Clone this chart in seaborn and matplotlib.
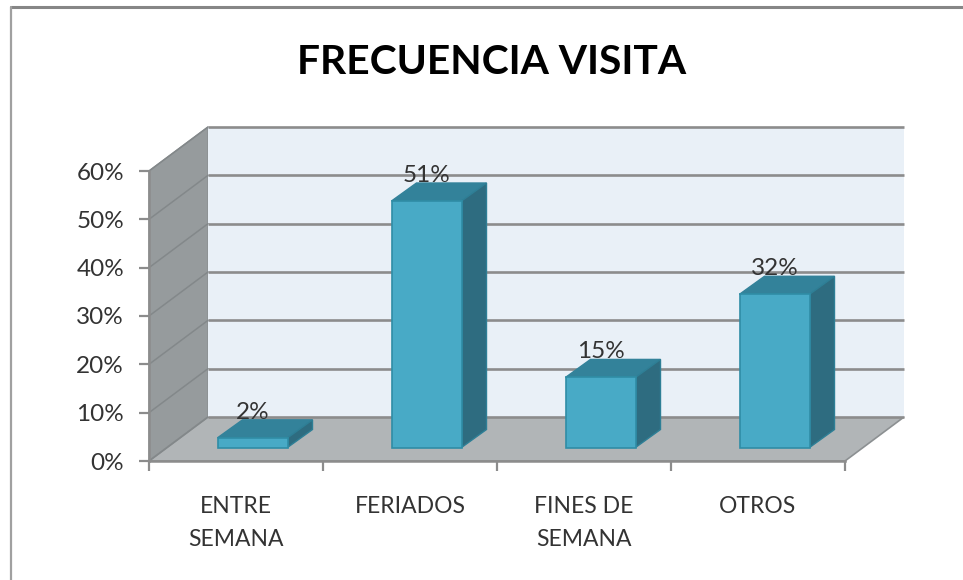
import numpy as np
import pandas as pd
import matplotlib
matplotlib.use("Agg")
import matplotlib.pyplot as plt
from matplotlib.patches import Polygon
from matplotlib.lines import Line2D
import seaborn as sns

categories = ["ENTRE\nSEMANA", "FERIADOS", "FINES DE\nSEMANA", "OTROS"]
values = [2, 51, 14.5, 31.7]
bar_labels = ["2%", "51%", "15%", "32%"]
y_ticks = [0, 10, 20, 30, 40, 50, 60]
title = "FRECUENCIA VISITA"

W, H = 963, 580
px_x = 696 / 4      # pixels per category
px_y = 290 / 60     # pixels per percent

sns.set_theme(style="white")
plt.rcParams["font.family"] = ["Lato", "DejaVu Sans"]

fig = plt.figure(figsize=(W / 100, H / 100), dpi=100, facecolor="white")
ax = fig.add_axes([149 / W, (H - 461) / H, 696 / W, 290 / H])
ax.patch.set_alpha(0)

df = pd.DataFrame({"cat": categories, "val": values})
sns.barplot(data=df, x="cat", y="val", color="#48AAC6", saturation=1, width=70 / px_x,
            edgecolor="#2F8DA6", linewidth=1.2, zorder=5, ax=ax, bottom=13.5 / px_y)

ax.set_xlim(-0.5, 3.5)
ax.set_ylim(0, 60)

# depth of the box and of the bars, turned into data units
wall_dx, wall_dy = 59 / px_x, 44 / px_y
bar_dx, bar_dy = 25 / px_x, 18 / px_y
x0, x1 = -0.5, 3.5

# walls and floor
ax.add_patch(Polygon([(x0, 0), (x0 + wall_dx, wall_dy), (x0 + wall_dx, 60 + wall_dy), (x0, 60)],
                     fc="#969B9D", ec="#8A8F91", lw=1, clip_on=False, zorder=1))
ax.add_patch(Polygon([(x0, 0), (x1, 0), (x1 + wall_dx, wall_dy), (x0 + wall_dx, wall_dy)],
                     fc="#B1B5B7", ec="#8C9092", lw=1.2, clip_on=False, zorder=1))
ax.add_patch(Polygon([(x0 + wall_dx, wall_dy), (x1 + wall_dx, wall_dy),
                      (x1 + wall_dx, 60 + wall_dy), (x0 + wall_dx, 60 + wall_dy)],
                     fc="#E9F0F7", ec="none", clip_on=False, zorder=1))

# gridlines along the back wall and the side wall
for t in y_ticks:
    ax.plot([x0 + wall_dx, x1 + wall_dx], [t + wall_dy, t + wall_dy], color="#8C8C8C", lw=1.9,
            clip_on=False, zorder=2, solid_capstyle="butt")
    ax.plot([x0, x0 + wall_dx], [t, t + wall_dy], color="#83888A", lw=1.1, clip_on=False, zorder=2)

# move the bars to the middle of the floor and add the 3d faces
shift = 16.5 / px_x
for p in ax.containers[0]:
    p.set_x(p.get_x() + shift)
    p.set_clip_on(False)
    left, right = p.get_x(), p.get_x() + p.get_width()
    low, top = p.get_y(), p.get_y() + p.get_height()
    ax.add_patch(Polygon([(left, top), (right, top), (right + bar_dx, top + bar_dy), (left + bar_dx, top + bar_dy)],
                         fc="#33829A", ec="#33829A", lw=1, clip_on=False, zorder=4))
    ax.add_patch(Polygon([(right, low), (right + bar_dx, low + bar_dy), (right + bar_dx, top + bar_dy), (right, top)],
                         fc="#2E6C80", ec="#2E7F96", lw=1, clip_on=False, zorder=4))

ax.bar_label(ax.containers[0], labels=bar_labels, padding=11, fontsize=17.5, color="#333333", zorder=6)

ax.set_yticks(y_ticks)
ax.set_yticklabels([f"{t}%" for t in y_ticks], fontsize=17.5, color="#333333")
ax.set_xticks(np.arange(5) - 0.5)
ax.set_xticklabels([])
ax.set_xticks(np.arange(4), categories, minor=True, fontsize=16.5, color="#333333", linespacing=1.72)
ax.tick_params(axis="x", which="major", length=7, width=1.6, color="#8C8C8C", bottom=True)
ax.tick_params(axis="x", which="minor", length=0, pad=25)
ax.tick_params(axis="y", length=7, width=1.6, color="#8C8C8C", pad=11, left=True)
ax.set_xlabel("")
ax.set_ylabel("")

sns.despine(ax=ax, top=True, right=True)
for side in ["left", "bottom"]:
    ax.spines[side].set_color("#8C8C8C")
    ax.spines[side].set_linewidth(1.8)
    ax.spines[side].set_zorder(3)

fig.text(492 / W, (H - 62.5) / H, title, fontsize=29.3, fontweight="bold", color="black", ha="center", va="center")

# frame of the pasted picture
fig.add_artist(Line2D([11 / W, 1], [(H - 7) / H, (H - 7) / H], color="#868686", lw=2.2))
fig.add_artist(Line2D([11 / W, 11 / W], [0, (H - 7) / H], color="#A0A0A0", lw=1.6))

fig.savefig("out.png", dpi=100, facecolor="white")
